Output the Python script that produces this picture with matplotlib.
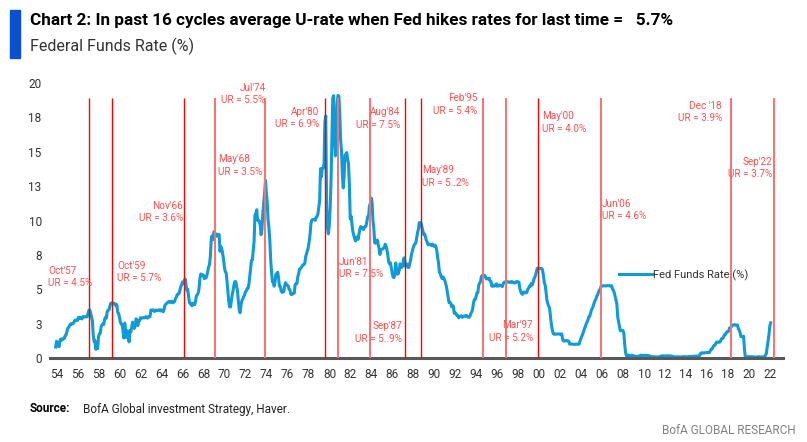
import matplotlib.pyplot as plt
import numpy as np
from matplotlib.lines import Line2D
from matplotlib.patches import Rectangle

plt.rcParams['font.family'] = ['Roboto', 'DejaVu Sans']

# Fed funds rate, monthly, Jul 1954 - Sep 2022
ffr_1950s = [0.80, 1.22, 1.07, 0.85, 0.83, 1.28,
             1.39, 1.29, 1.35, 1.43, 1.43, 1.64, 1.68, 1.96, 2.18, 2.24, 2.35, 2.48,
             2.45, 2.50, 2.50, 2.62, 2.75, 2.71, 2.75, 2.73, 2.95, 2.96, 2.88, 2.94,
             2.84, 3.00, 2.96, 3.00, 3.00, 3.00, 2.99, 3.24, 3.47, 3.50, 3.28, 2.98,
             2.72, 1.67, 1.20, 1.26, 0.63, 0.93, 0.68, 1.53, 1.76, 1.80, 2.27, 2.42,
             2.48, 2.43, 2.80, 2.96, 2.90, 3.39, 3.47, 3.50, 3.76, 3.98, 4.00, 3.99]
ffr_1960s = [3.99, 3.97, 3.84, 3.92, 3.85, 3.32, 3.23, 2.98, 2.60, 2.47, 2.44, 1.98,
             1.45, 2.54, 2.02, 1.49, 1.98, 1.73, 1.17, 2.00, 1.88, 2.26, 2.61, 2.33,
             2.15, 2.37, 2.85, 2.78, 2.36, 2.68, 2.71, 2.93, 2.90, 2.90, 2.94, 2.93,
             2.92, 3.00, 2.98, 2.90, 3.00, 2.99, 3.02, 3.49, 3.48, 3.50, 3.48, 3.38,
             3.48, 3.48, 3.43, 3.47, 3.50, 3.50, 3.42, 3.50, 3.45, 3.36, 3.52, 3.85,
             3.90, 3.98, 4.04, 4.09, 4.10, 4.04, 4.09, 4.12, 4.01, 4.08, 4.10, 4.32,
             4.42, 4.60, 4.65, 4.67, 4.90, 5.17, 5.30, 5.53, 5.40, 5.53, 5.76, 5.40,
             4.94, 5.00, 4.53, 4.05, 3.94, 3.98, 3.79, 3.90, 3.99, 3.88, 4.13, 4.51,
             4.60, 4.71, 5.05, 5.76, 6.11, 6.07, 6.02, 6.03, 5.78, 5.91, 5.82, 6.02,
             6.30, 6.64, 6.79, 7.41, 8.67, 8.90, 8.61, 9.19, 9.15, 9.00, 8.85, 8.97]
ffr_1970s = [8.98, 8.98, 7.76, 8.10, 7.95, 7.61, 7.21, 6.61, 6.29, 6.20, 5.60, 4.90,
             4.14, 3.72, 3.71, 4.15, 4.63, 4.91, 5.31, 5.56, 5.55, 5.20, 4.91, 4.14,
             3.50, 3.29, 3.83, 4.17, 4.27, 4.46, 4.55, 4.80, 4.87, 5.04, 5.06, 5.33,
             5.94, 6.58, 7.09, 7.12, 7.84, 8.49, 10.40, 10.50, 10.78, 10.01, 10.03, 9.95,
             9.65, 8.97, 9.35, 10.51, 11.31, 11.93, 12.92, 12.01, 11.34, 10.06, 9.45, 8.53,
             7.13, 6.24, 5.54, 5.49, 5.22, 5.55, 6.10, 6.14, 6.24, 5.82, 5.22, 5.20,
             4.87, 4.77, 4.84, 4.82, 5.29, 5.48, 5.31, 5.29, 5.25, 5.02, 4.95, 4.65,
             4.61, 4.68, 4.69, 4.73, 5.35, 5.39, 5.42, 5.90, 6.14, 6.47, 6.51, 6.56,
             6.70, 6.78, 6.79, 6.89, 7.36, 7.60, 7.81, 8.04, 8.45, 8.96, 9.76, 10.03,
             10.07, 10.06, 10.09, 10.01, 10.24, 10.29, 10.47, 10.94, 11.43, 13.77, 13.18, 13.78]
ffr_1980s = [13.82, 14.13, 17.19, 17.61, 10.98, 9.47, 9.03, 9.61, 10.87, 12.81, 15.85, 18.90,
             19.08, 15.93, 14.70, 15.72, 18.52, 19.10, 19.04, 17.82, 15.87, 15.08, 13.31, 12.37,
             13.22, 14.78, 14.68, 14.94, 14.45, 14.15, 12.59, 10.12, 10.31, 9.71, 9.20, 8.95,
             8.68, 8.51, 8.77, 8.80, 8.63, 8.98, 9.37, 9.56, 9.45, 9.48, 9.34, 9.47,
             9.56, 9.59, 9.91, 10.29, 10.32, 11.06, 11.23, 11.64, 11.30, 9.99, 9.43, 8.38,
             8.35, 8.50, 8.58, 8.27, 7.97, 7.53, 7.88, 7.90, 7.92, 7.99, 8.05, 8.27,
             8.14, 7.86, 7.48, 6.99, 6.85, 6.92, 6.56, 6.17, 5.89, 5.85, 6.04, 6.91,
             6.43, 6.10, 6.13, 6.37, 6.85, 6.73, 6.58, 6.73, 7.22, 7.29, 6.69, 6.77,
             6.83, 6.58, 6.58, 6.87, 7.09, 7.51, 7.75, 8.01, 8.19, 8.30, 8.35, 8.76,
             9.12, 9.36, 9.85, 9.84, 9.81, 9.53, 9.24, 8.99, 9.02, 8.84, 8.55, 8.45]
ffr_1990s = [8.23, 8.24, 8.28, 8.26, 8.18, 8.29, 8.15, 8.13, 8.20, 8.11, 7.81, 7.31,
             6.91, 6.25, 6.12, 5.91, 5.78, 5.90, 5.82, 5.66, 5.45, 5.21, 4.81, 4.43,
             4.03, 4.06, 3.98, 3.73, 3.82, 3.76, 3.25, 3.30, 3.22, 3.10, 3.09, 2.92,
             3.02, 3.03, 3.07, 2.96, 3.00, 3.04, 3.06, 3.03, 3.09, 2.99, 3.02, 2.96,
             3.05, 3.25, 3.34, 3.56, 4.01, 4.25, 4.26, 4.47, 4.73, 4.76, 5.29, 5.45,
             5.53, 5.92, 5.98, 6.05, 6.01, 6.00, 5.85, 5.74, 5.80, 5.76, 5.80, 5.60,
             5.56, 5.22, 5.31, 5.22, 5.24, 5.27, 5.40, 5.22, 5.30, 5.24, 5.31, 5.29,
             5.25, 5.19, 5.39, 5.51, 5.50, 5.56, 5.52, 5.54, 5.54, 5.50, 5.52, 5.50,
             5.56, 5.51, 5.49, 5.45, 5.49, 5.56, 5.54, 5.55, 5.51, 5.07, 4.83, 4.68,
             4.63, 4.76, 4.81, 4.74, 4.74, 4.76, 4.99, 5.07, 5.22, 5.20, 5.42, 5.30]
ffr_2000s = [5.45, 5.73, 5.85, 6.02, 6.27, 6.53, 6.54, 6.50, 6.52, 6.51, 6.51, 6.40,
             5.98, 5.49, 5.31, 4.80, 4.21, 3.97, 3.77, 3.65, 3.07, 2.49, 2.09, 1.82,
             1.73, 1.74, 1.73, 1.75, 1.75, 1.75, 1.73, 1.74, 1.75, 1.75, 1.34, 1.24,
             1.24, 1.26, 1.25, 1.26, 1.26, 1.22, 1.01, 1.03, 1.01, 1.01, 1.00, 0.98,
             1.00, 1.01, 1.00, 1.00, 1.00, 1.03, 1.26, 1.43, 1.61, 1.76, 1.93, 2.16,
             2.28, 2.50, 2.63, 2.79, 3.00, 3.04, 3.26, 3.50, 3.62, 3.78, 4.00, 4.16,
             4.29, 4.49, 4.59, 4.79, 4.94, 4.99, 5.24, 5.25, 5.25, 5.25, 5.25, 5.24,
             5.25, 5.26, 5.26, 5.25, 5.25, 5.25, 5.26, 5.02, 4.94, 4.76, 4.49, 4.24,
             3.94, 2.98, 2.61, 2.28, 1.98, 2.00, 2.01, 2.00, 1.81, 0.97, 0.39, 0.16,
             0.15, 0.22, 0.18, 0.15, 0.18, 0.21, 0.16, 0.16, 0.15, 0.12, 0.12, 0.12]
ffr_2010s = [0.11, 0.13, 0.16, 0.20, 0.20, 0.18, 0.18, 0.19, 0.19, 0.19, 0.19, 0.18,
             0.17, 0.16, 0.14, 0.10, 0.09, 0.09, 0.07, 0.10, 0.08, 0.07, 0.08, 0.07,
             0.08, 0.10, 0.13, 0.14, 0.16, 0.16, 0.16, 0.13, 0.14, 0.16, 0.16, 0.16,
             0.14, 0.15, 0.14, 0.15, 0.11, 0.09, 0.09, 0.08, 0.08, 0.09, 0.08, 0.09,
             0.07, 0.07, 0.08, 0.09, 0.09, 0.10, 0.09, 0.09, 0.09, 0.09, 0.09, 0.12,
             0.11, 0.11, 0.11, 0.12, 0.12, 0.13, 0.13, 0.14, 0.14, 0.12, 0.12, 0.24,
             0.34, 0.38, 0.36, 0.37, 0.37, 0.38, 0.39, 0.40, 0.40, 0.40, 0.41, 0.54,
             0.65, 0.66, 0.79, 0.90, 0.91, 1.04, 1.15, 1.16, 1.15, 1.15, 1.16, 1.30,
             1.41, 1.42, 1.51, 1.69, 1.70, 1.82, 1.91, 1.91, 1.95, 2.19, 2.20, 2.27,
             2.40, 2.40, 2.41, 2.42, 2.39, 2.38, 2.40, 2.13, 2.04, 1.83, 1.55, 1.55]
ffr_2020s = [1.55, 1.58, 0.65, 0.05, 0.05, 0.08, 0.09, 0.10, 0.09, 0.09, 0.09, 0.09,
             0.09, 0.08, 0.07, 0.07, 0.06, 0.08, 0.10, 0.09, 0.08, 0.08, 0.08, 0.08,
             0.08, 0.08, 0.20, 0.33, 0.77, 1.21, 1.68, 2.33, 2.56]

ffr = np.array(ffr_1950s + ffr_1960s + ffr_1970s + ffr_1980s + ffr_1990s
               + ffr_2000s + ffr_2010s + ffr_2020s)
dates = 1954.5 + np.arange(len(ffr)) / 12

# last hike of each cycle (where the red lines sit on the chart)
hike_dates = [1957.68, 1959.87, 1966.74, 1969.70, 1974.46, 1980.18, 1981.42, 1984.47,
              1987.80, 1989.33, 1995.24, 1997.43, 2000.48, 2006.49, 2018.88, 2022.98]
hike_labels = ["Oct'57\nUR = 4.5%", "Oct'59\nUR = 5.7%", "Nov'66\nUR = 3.6%",
               "May'68\nUR = 3.5%", "Jul'74\nUR = 5.5%", "Apr'80\nUR = 6.9%",
               "Jun'81\nUR = 7.5%", "Aug'84\nUR = 7.5%", "Sep'87\nUR = 5..9%",
               "May'89\nUR = 5..2%", "Feb'95\nUR = 5.4%", "Mar'97\nUR = 5.2%",
               "May'00\nUR = 4.0%", "Jun'06\nUR = 4.6%", "Dec '18\nUR = 3.9%",
               "Sep'22\nUR = 3.7%"]
hike_faded = [0, 0, 0, 1, 1, 0, 1, 1, 0, 0, 1, 1, 0, 1, 1, 1]

# label placement (x, y, alignment)
label_pos = [(1953.78, 5.87, 'left'), (1960.35, 6.24, 'left'), (1966.64, 10.62, 'right'),
             (1969.98, 13.99, 'left'), (1974.50, 19.20, 'right'), (1979.60, 17.47, 'right'),
             (1981.51, 6.53, 'left'), (1987.33, 17.43, 'right'), (1987.52, 1.85, 'right'),
             (1989.42, 13.19, 'left'), (1994.67, 18.44, 'right'), (2000.01, 1.92, 'right'),
             (2000.87, 17.14, 'left'), (2006.59, 10.76, 'left'), (2018.02, 17.90, 'right'),
             (2022.79, 13.80, 'right')]

years = np.arange(1954, 2023, 2)
year_labels = ['%02d' % (y % 100) for y in years]
yticks = np.arange(0, 20.1, 2.5)
ytick_labels = ['0', '3', '5', '8', '10', '13', '15', '18', '20']

blue = '#0E9BD8'
red = '#FF0000'
faded = '#FF6E6E'
txt_red = '#FF4F4F'

fig = plt.figure(figsize=(8.07, 4.42), dpi=100)
ax = fig.add_axes([50 / 807, 1 - 358 / 442, 733 / 807, 275 / 442])

ax.plot(dates, ffr, color=blue, lw=2.2, zorder=2)
for d, f in zip(hike_dates, hike_faded):
    ax.vlines(d, 0, 18.9, colors=faded if f else red, lw=1.4 if f else 1.0, zorder=3)
for lab, (x, y, ha) in zip(hike_labels, label_pos):
    ax.text(x, y, lab, color=txt_red, fontsize=7.2, ha=ha, va='center', linespacing=1.3)

ax.set_xlim(1953.96, 2023.84)
ax.set_ylim(0, 20)
ax.set_xticks(years + 0.6)
ax.set_xticklabels(year_labels)
ax.set_yticks(yticks)
ax.set_yticklabels(ytick_labels)
ax.tick_params(length=0, labelsize=8.5, colors='#333333')
ax.tick_params(axis='x', pad=7)
ax.tick_params(axis='y', pad=6)
for s in ['top', 'right', 'left']:
    ax.spines[s].set_visible(False)
ax.spines['bottom'].set_color('#595959')
ax.spines['bottom'].set_linewidth(2.2)

ax.legend([Line2D([], [], color=blue, lw=2.2)], ['Fed Funds Rate (%)'],
          loc='center left', bbox_to_anchor=(619 / 807, 1 - 275 / 442),
          bbox_transform=fig.transFigure, frameon=False, fontsize=8,
          handlelength=3.0, handletextpad=0.05, borderpad=0, borderaxespad=0,
          labelcolor='#333333')

fig.patches.append(Rectangle((10 / 807, 1 - 58 / 442), 10 / 807, 48 / 442,
                             transform=fig.transFigure, color='#0B50D1'))
fig.text(30 / 807, 1 - 21 / 442,
         'Chart 2: In past 16 cycles average U-rate when Fed hikes rates for last time =   5.7%',
         fontsize=12.3, weight='bold', va='center', color='#000000')
fig.text(30 / 807, 1 - 46 / 442, 'Federal Funds Rate (%)', fontsize=11.5,
         va='center', color='#333333')
fig.text(30 / 807, 1 - 409 / 442, 'Source:', fontsize=8.5, weight='bold', va='center')
fig.text(83 / 807, 1 - 409 / 442, 'BofA Global investment Strategy, Haver.',
         fontsize=8.5, va='center', color='#222222')
fig.text(796 / 807, 1 - 431 / 442, 'BofA GLOBAL RESEARCH', fontsize=8.5,
         ha='right', va='center', color='#808080')

fig.savefig('out.png', dpi=100)
